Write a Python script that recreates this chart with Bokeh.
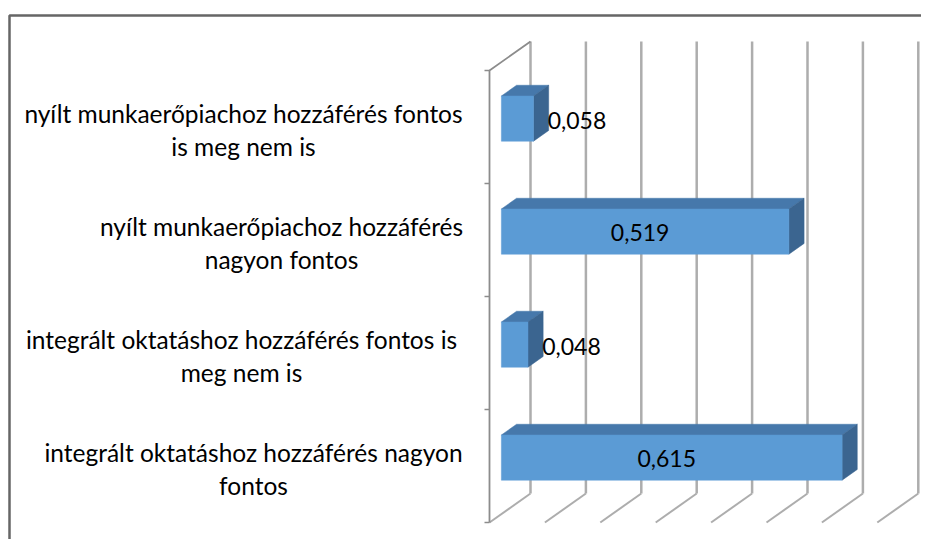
from bokeh.plotting import figure
from bokeh.models import Range1d
from bokeh.embed import file_html
from bokeh.resources import INLINE
from bokeh.core.properties import value

# ---- data ----
categories = [
    "integrált oktatáshoz hozzáférés nagyon\nfontos",
    "integrált oktatáshoz hozzáférés fontos is\nmeg nem is",
    "nyílt munkaerőpiachoz hozzáférés\nnagyon fontos",
    "nyílt munkaerőpiachoz hozzáférés fontos\nis meg nem is",
]
values = [0.615, 0.048, 0.519, 0.058]
value_labels = ["0,615", "0,048", "0,519", "0,058"]
grid_ticks = [0.0, 0.1, 0.2, 0.3, 0.4, 0.5, 0.6, 0.7]

# ---- layout (pixel geometry) ----
W, H = 921, 539
SX = 554.0          # px per value unit
SY = 113.0          # px per category slot
X0 = 489.0          # canvas px of value 0 on the front plane
Y0 = 522.0          # canvas px of the floor front edge
DX = 41.0 / SX      # depth offset in data units
DY = 29.0 / SY
D_FRONT, D_BACK = 0.29, 0.66
HALF = 0.2

def px_x(px):
    return (px - X0) / SX

def px_y(py):
    return (Y0 - py) / SY

def P(v, y, d):
    return v + d * DX, y + d * DY

p = figure(width=W, height=H, output_backend="svg", toolbar_location=None,
           x_range=Range1d(px_x(0), px_x(W)), y_range=Range1d(px_y(H), px_y(0)),
           x_axis_type=None, y_axis_type=None, min_border=0)
p.outline_line_color = None
p.background_fill_color = "white"
p.border_fill_color = "white"

n = len(categories)
GRID = "#ADADAD"

# back-wall vertical gridlines
gx, gy = [], []
for t in grid_ticks:
    a = P(t, 0, 1); b = P(t, n, 1)
    gx.append([a[0], b[0]]); gy.append([a[1], b[1]])
p.multi_line(gx, gy, line_color=GRID, line_width=2.5)

# floor diagonals
fx, fy = [], []
for t in grid_ticks:
    a = P(t, 0, 1); b = P(t, 0, 0)
    fx.append([a[0], b[0]]); fy.append([a[1], b[1]])
p.multi_line(fx, fy, line_color=GRID, line_width=2)

# left wall: front axis line and top diagonal
AX = "#8C8C8C"
a = P(0, 0, 0); b = P(0, n, 0); c = P(0, n, 1)
p.line([a[0], b[0], c[0]], [a[1], b[1], c[1]], line_color=AX, line_width=1.8)
# ticks
tx, ty = [], []
for k in range(n + 1):
    tx.append([-5.0 / SX, 0.0]); ty.append([k, k])
p.multi_line(tx, ty, line_color=AX, line_width=1.5)

# bars (3D boxes)
front_x, front_y, top_x, top_y, side_x, side_y = [], [], [], [], [], []
for i, v in enumerate(values):
    y0 = i + 0.5 - HALF
    y1 = i + 0.5 + HALF
    pts = [P(0, y0, D_FRONT), P(v, y0, D_FRONT), P(v, y1, D_FRONT), P(0, y1, D_FRONT)]
    front_x.append([q[0] for q in pts]); front_y.append([q[1] for q in pts])
    pts = [P(0, y1, D_FRONT), P(v, y1, D_FRONT), P(v, y1, D_BACK), P(0, y1, D_BACK)]
    top_x.append([q[0] for q in pts]); top_y.append([q[1] for q in pts])
    pts = [P(v, y0, D_FRONT), P(v, y0, D_BACK), P(v, y1, D_BACK), P(v, y1, D_FRONT)]
    side_x.append([q[0] for q in pts]); side_y.append([q[1] for q in pts])

p.patches(top_x, top_y, fill_color="#4678AB", line_color="#4678AB", line_width=0.5)
p.patches(side_x, side_y, fill_color="#3B6590", line_color="#3B6590", line_width=0.5)
p.patches(front_x, front_y, fill_color="#5B9BD5", line_color="#5B9BD5", line_width=0.5)

# value labels
in_x, in_y, in_t, out_x, out_y, out_t = [], [], [], [], [], []
for i, (v, lab) in enumerate(zip(values, value_labels)):
    yc = i + 0.5 + D_FRONT * DY
    if v < 0.2:
        out_x.append(v + D_BACK * DX); out_y.append(yc); out_t.append(lab)
    else:
        in_x.append(v / 2 + D_FRONT * DX); in_y.append(yc); in_t.append(lab)
FONT = value("Lato")
p.text(in_x, in_y, text=in_t, text_align="center", text_baseline="middle",
       text_font=FONT, text_font_size="23px", text_color="black", x_offset=-5, y_offset=1)
p.text(out_x, out_y, text=out_t, text_align="left", text_baseline="middle",
       text_font=FONT, text_font_size="23px", text_color="black", x_offset=-1, y_offset=2)

# category labels (centred lines, block right edge near the axis)
label_centers_px = [253, 241, 281, 243]
LINE = 33.0 / SY
cx, cy, ct = [], [], []
for i, (cat, cpx) in enumerate(zip(categories, label_centers_px)):
    lines = cat.split("\n")
    k = len(lines)
    for j, ln in enumerate(lines):
        cx.append(px_x(cpx))
        cy.append(i + 0.5 - 2.5 / SY + ((k - 1) / 2 - j) * LINE)
        ct.append(ln)
p.text(cx, cy, text=ct, text_align="center", text_baseline="middle",
       text_font=FONT, text_font_size="24.5px", text_color="black")

# outer chart-area border (top and left edges)
BX = px_x(9.0); BY = px_y(15.0)
p.line([BX, BX, px_x(W + 5)], [px_y(H + 5), BY, BY], line_color="#666666", line_width=2.5)

open("out.html", "w").write(file_html(p, INLINE))
